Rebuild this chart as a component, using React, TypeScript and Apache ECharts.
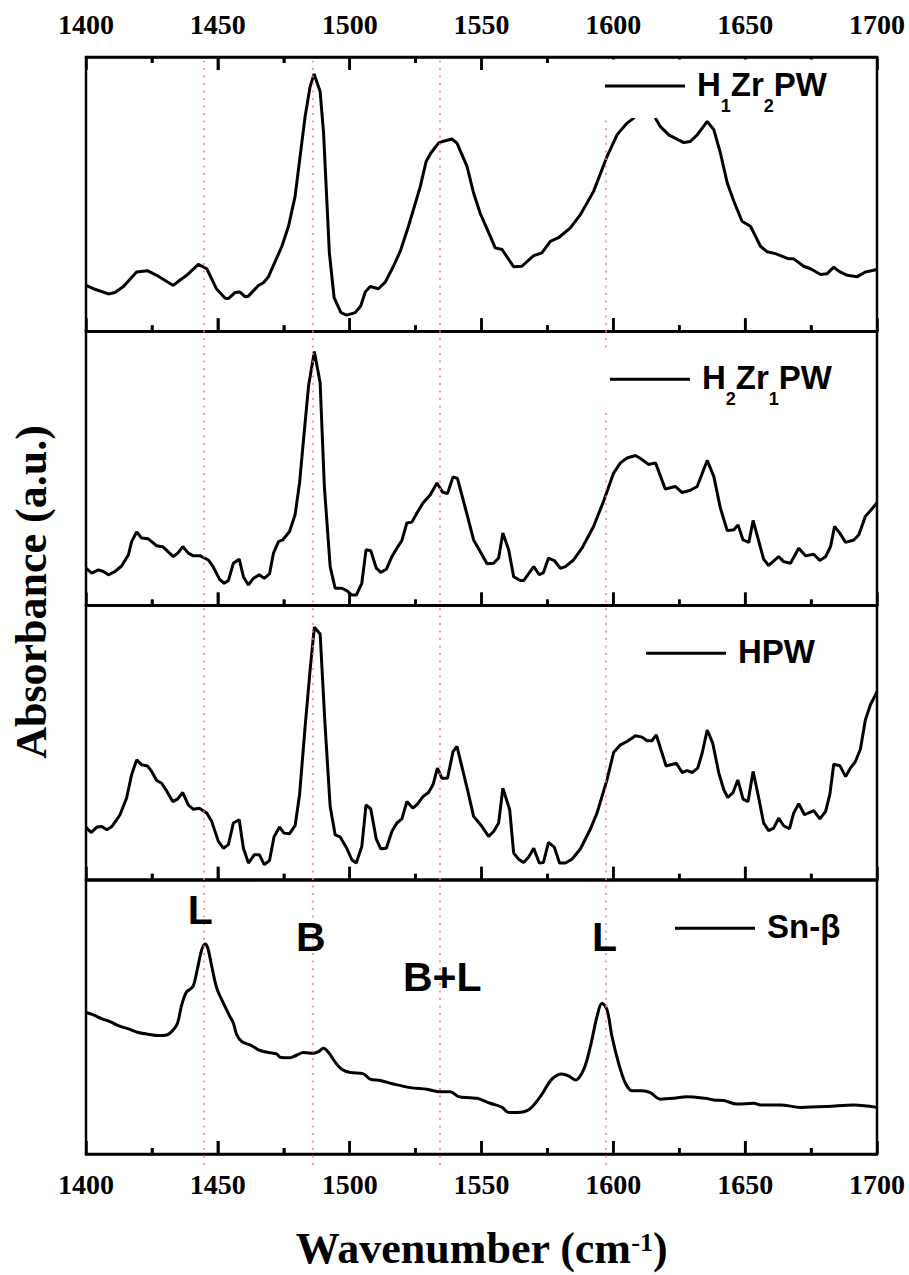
import React, { useEffect, useRef } from 'react';
import * as echarts from 'echarts';

// ---- data (wavenumber cm-1, relative absorbance in % of panel height) ----
const seriesNames = ['H1Zr2PW', 'H2Zr1PW', 'HPW', 'Sn-β'];

const h1zr2pw: [number, number][] = [
  [1400,16.7],[1402.8,15.5],[1408.5,13.6],[1411.0,14.1],[1414.2,16.3],[1419.2,21.6],[1423.3,22.1],[1426.8,20.4],
  [1433.1,16.7],[1435.7,18.7],[1438.2,20.4],[1442.6,24.4],[1445.8,22.8],[1449.6,15.3],[1452.8,12.0],[1454.0,11.9],
  [1456.5,14.1],[1458.4,14.3],[1460.3,12.6],[1461.6,12.8],[1465.4,16.7],[1467.3,17.7],[1469.2,19.9],[1474.3,31.0],
  [1476.8,38.3],[1479.3,49.2],[1483.1,78.3],[1485.0,89.2],[1486.5,93.8],[1488.8,87.4],[1490.1,72.3],[1492.3,28.6],
  [1494.1,12.3],[1496.7,6.8],[1498.9,5.9],[1502.1,6.8],[1504.2,9.2],[1505.9,14.3],[1507.8,16.3],[1510.9,15.5],
  [1513.5,17.9],[1516.6,23.7],[1519.2,29.2],[1522.3,38.3],[1524.2,44.4],[1526.8,52.8],[1529.0,61.9],[1530.8,65.0],
  [1533.7,68.6],[1535.6,69.3],[1538.8,70.1],[1540.7,68.6],[1544.5,60.1],[1547.0,50.4],[1549.5,43.0],[1553.3,34.7],
  [1555.2,30.4],[1557.8,29.8],[1562.2,23.5],[1565.3,23.7],[1569.8,27.6],[1572.9,28.6],[1576.1,32.8],[1579.2,34.1],
  [1583.7,37.7],[1587.5,42.5],[1592.5,51.0],[1597.6,63.7],[1601.4,71.6],[1605.2,75.9],[1607.7,77.7],[1610.5,83.0],
  [1612.5,85.0],[1614.5,83.0],[1616.0,77.7],[1617.8,74.7],[1621.0,71.6],[1626.7,68.8],[1629.2,69.2],[1631.8,71.6],
  [1635.6,76.5],[1638.1,73.5],[1640.6,65.0],[1643.2,54.1],[1645.7,47.4],[1648.8,40.1],[1652.0,38.3],[1653.9,34.7],
  [1655.8,31.0],[1658.3,29.0],[1661.5,28.3],[1663.4,27.6],[1666.5,26.4],[1668.4,26.4],[1672.2,23.7],[1674.8,22.8],
  [1678.6,20.7],[1681.1,21.0],[1683.6,23.4],[1685.5,21.9],[1688.7,20.4],[1692.5,19.9],[1695.6,21.6],[1700,22.5]
];

const h2zr1pw: [number, number][] = [
  [1400,13.6],[1402.2,11.8],[1404.7,13.0],[1406.6,12.4],[1408.5,11.2],[1411.0,12.4],[1413.5,14.4],[1416.1,18.5],
  [1417.3,23.3],[1419.2,26.8],[1421.1,24.6],[1423.6,24.3],[1426.8,21.8],[1429.3,21.3],[1433.1,17.8],[1435.0,19.3],
  [1436.7,21.5],[1438.8,19.1],[1440.7,18.1],[1443.3,18.1],[1446.4,16.6],[1448.3,14.0],[1450.6,9.6],[1452.4,8.1],
  [1454.0,9.1],[1455.9,15.4],[1458.1,16.9],[1459.7,10.5],[1461.6,7.5],[1463.5,9.9],[1465.7,11.2],[1467.6,9.9],
  [1469.6,11.5],[1471.1,19.1],[1473.0,23.3],[1474.6,23.9],[1477.2,27.0],[1479.3,33.1],[1481.0,44.7],[1482.5,60.5],
  [1484.4,80.0],[1486.6,92.6],[1488.8,81.2],[1490.4,43.4],[1492.6,14.2],[1494.5,6.3],[1497.0,6.3],[1498.9,5.4],
  [1500.8,3.8],[1502.5,3.8],[1504.6,8.1],[1506.2,20.3],[1508.0,20.0],[1510.1,13.6],[1511.8,12.1],[1513.9,13.2],
  [1516.0,17.8],[1517.9,20.9],[1519.8,23.7],[1521.7,30.1],[1523.6,30.4],[1525.5,33.7],[1527.8,37.4],[1530.6,40.4],
  [1533.1,44.7],[1535.2,41.4],[1537.1,40.8],[1539.2,46.9],[1540.9,46.3],[1544.7,32.5],[1547.0,23.9],[1549.5,19.7],
  [1552.1,15.2],[1554.6,15.4],[1556.5,17.3],[1558.1,26.4],[1560.3,20.3],[1562.2,10.5],[1564.7,9.1],[1566.0,9.1],
  [1569.8,14.2],[1571.9,11.2],[1573.5,12.0],[1575.4,17.3],[1577.6,16.4],[1579.9,13.6],[1581.8,14.2],[1584.9,16.6],
  [1588.1,20.9],[1592.5,28.8],[1596.3,38.0],[1600.1,48.3],[1602.7,52.0],[1605.2,53.8],[1608.4,54.7],[1610.9,53.2],
  [1613.4,51.4],[1616.0,52.0],[1619.7,42.5],[1623.5,43.4],[1626.1,41.2],[1629.2,42.0],[1631.8,43.4],[1635.6,52.9],
  [1638.1,47.1],[1640.6,35.5],[1643.2,27.3],[1645.7,27.6],[1647.3,29.4],[1649.2,23.9],[1651.4,23.0],[1653.0,31.0],
  [1655.2,23.3],[1657.0,16.9],[1658.9,14.6],[1662.7,17.8],[1664.6,16.0],[1667.2,15.4],[1670.3,20.9],[1672.9,18.1],
  [1676.0,18.7],[1678.3,16.4],[1680.5,17.8],[1682.4,21.5],[1683.9,28.8],[1685.9,26.4],[1688.1,23.0],[1691.2,23.9],
  [1693.1,25.8],[1695.6,32.5],[1699.4,36.7],[1700,37.5]
];

const hpw: [number, number][] = [
  [1400,19.1],[1401.9,17.2],[1404.1,19.2],[1406.0,19.4],[1407.9,18.2],[1409.8,19.4],[1412.9,23.7],[1415.4,29.8],
  [1417.3,38.3],[1419.2,43.7],[1421.1,41.9],[1423.3,41.5],[1424.9,39.5],[1426.8,36.2],[1428.7,35.2],[1430.6,32.4],
  [1432.9,28.5],[1434.7,29.4],[1436.7,31.8],[1438.8,27.3],[1440.7,25.7],[1443.0,26.1],[1445.8,24.3],[1447.7,21.2],
  [1450.2,14.0],[1452.1,11.5],[1454.0,12.8],[1455.9,20.7],[1458.1,21.9],[1459.7,11.5],[1461.6,6.1],[1463.8,9.1],
  [1465.8,9.1],[1467.6,5.5],[1469.6,7.0],[1471.3,15.6],[1473.4,19.2],[1475.1,17.0],[1477.2,16.8],[1479.3,19.7],
  [1481.0,31.0],[1483.1,55.8],[1485.0,76.5],[1486.6,92.1],[1488.8,89.6],[1490.7,55.8],[1492.6,26.7],[1494.5,16.4],
  [1496.4,15.6],[1498.9,11.5],[1500.8,7.3],[1502.5,6.1],[1504.6,12.1],[1506.2,27.3],[1508.0,25.8],[1510.1,14.8],
  [1511.8,11.3],[1513.9,11.5],[1516.0,17.6],[1517.9,20.7],[1519.8,22.2],[1521.7,28.5],[1524.0,26.1],[1525.7,27.6],
  [1527.8,30.3],[1529.9,31.8],[1531.6,34.6],[1533.3,40.7],[1535.0,37.0],[1537.1,37.0],[1539.2,46.7],[1540.7,48.6],
  [1544.7,32.8],[1547.0,23.1],[1550.2,19.4],[1552.7,15.8],[1554.6,17.6],[1556.5,20.7],[1558.1,33.4],[1560.7,25.5],
  [1562.2,9.7],[1564.1,7.5],[1566.0,6.3],[1567.9,8.3],[1569.8,11.5],[1571.9,6.1],[1573.5,6.3],[1575.4,13.6],
  [1577.6,11.9],[1579.6,6.1],[1581.8,6.1],[1584.3,7.5],[1587.5,11.2],[1591.3,18.5],[1593.8,24.3],[1597.6,36.4],
  [1600.1,46.4],[1602.7,49.2],[1605.2,50.4],[1608.4,52.5],[1610.9,52.0],[1612.8,50.7],[1614.7,50.7],[1616.3,52.8],
  [1620.0,41.5],[1623.9,42.5],[1626.1,39.1],[1628.0,39.8],[1629.9,39.1],[1632.0,40.7],[1633.7,46.2],[1635.6,54.6],
  [1637.7,49.8],[1640.0,38.9],[1641.9,32.8],[1643.4,30.0],[1645.4,31.8],[1647.2,36.4],[1649.2,29.4],[1651.1,28.5],
  [1653.0,39.5],[1654.9,31.0],[1657.0,20.7],[1658.9,17.9],[1660.8,18.8],[1662.7,22.5],[1664.6,19.7],[1666.8,18.6],
  [1668.4,24.3],[1670.3,27.7],[1672.5,23.7],[1676.0,25.2],[1678.3,22.2],[1680.5,24.9],[1682.1,31.0],[1683.6,42.1],
  [1685.9,41.6],[1688.1,37.6],[1689.9,40.7],[1691.8,43.1],[1693.7,47.6],[1695.6,58.3],[1697.5,63.8],[1700,68.5]
];

const snBeta: [number, number][] = [
  [1400,51.6],[1402.8,50.7],[1406.0,49.3],[1409.1,48.3],[1412.3,46.8],[1416.1,45.6],[1419.8,44.3],[1423.6,43.7],
  [1427.4,43.2],[1430.6,43.4],[1433.1,45.3],[1434.7,47.7],[1436.3,54.4],[1438.0,58.9],[1439.5,60.1],[1440.7,61.3],
  [1442.2,67.2],[1443.9,74.5],[1445.2,76.6],[1446.2,75.1],[1447.7,68.4],[1449.6,60.5],[1452.1,55.0],[1454.6,50.1],
  [1455.9,47.7],[1457.2,43.4],[1459.1,41.0],[1462.2,39.8],[1465.4,38.0],[1469.2,37.0],[1472.4,36.4],[1473.6,35.3],
  [1477.4,35.1],[1480.0,36.1],[1482.5,37.0],[1486.3,36.7],[1488.2,37.3],[1490.1,38.6],[1492.0,37.0],[1494.5,33.5],
  [1497.0,30.9],[1500.2,29.7],[1505.2,29.2],[1507.8,27.3],[1511.6,26.8],[1516.6,25.5],[1523.0,24.2],[1529.3,23.6],
  [1534.4,22.7],[1538.1,22.7],[1541.3,20.9],[1545.7,20.5],[1548.3,20.3],[1553.3,18.5],[1557.8,17.0],[1560.3,15.1],
  [1563.5,15.1],[1567.9,16.1],[1572.3,20.9],[1576.7,27.3],[1580.5,29.2],[1583.0,28.5],[1585.6,27.0],[1588.7,30.7],
  [1591.3,39.2],[1593.8,50.1],[1595.7,55.0],[1597.6,52.6],[1599.5,42.8],[1602.0,33.1],[1604.6,25.8],[1607.1,23.1],
  [1610.9,23.1],[1614.0,22.4],[1617.8,20.0],[1622.9,20.3],[1627.9,20.9],[1634.9,20.3],[1638.1,19.7],[1641.9,19.5],
  [1646.9,18.2],[1653.3,18.5],[1655.8,17.9],[1663.4,17.9],[1671.0,17.0],[1681.1,17.3],[1691.2,17.9],[1696.3,17.5],
  [1700,17.0]
];

// band positions (dotted guide lines) and peak assignments
const bandCentres = [1444.5, 1486, 1534, 1597];
const peakLabels = ['L', 'B', 'B+L', 'L'];
const peakLabelX = [1443.3, 1485.3, 1535.1, 1596.7];
const peakLabelY = [88.9, 79.1, 64.7, 79.0];

// axis ticks (major every 50, minor halfway)
const majorTicks = [1450, 1500, 1550, 1600, 1650];
const minorTicks = [1425, 1475, 1525, 1575, 1625, 1675];

const xMin = 1400;
const xMax = 1700;
const xStep = 50;

const panelData = [h1zr2pw, h2zr1pw, hpw, snBeta];
const legendRichText = [
  '{a|H}{s|1}{a|Zr}{s|2}{a|PW}',
  '{a|H}{s|2}{a|Zr}{s|1}{a|PW}',
  '{a|HPW}',
  '{a|Sn-β}',
];

export default function App() {
  const ref = useRef<HTMLDivElement>(null);

  useEffect(() => {
    if (!ref.current) return;
    const chart = echarts.init(ref.current, null, { renderer: 'svg' });

    const PLOT_LEFT = 86;
    const PLOT_W = 791;
    const PLOT_TOP = 57;
    const PANEL_H = 274.25;

    const grids: any[] = panelData.map((_, i) => ({
      left: PLOT_LEFT,
      width: PLOT_W,
      top: PLOT_TOP + i * PANEL_H,
      height: PANEL_H,
      show: true,
      borderColor: '#000',
      borderWidth: 2.5,
    }));
    grids.push({ left: PLOT_LEFT, width: PLOT_W, top: 55, height: 1110, show: false });

    const tickFont = {
      color: '#000',
      fontFamily: '"Liberation Serif", "Times New Roman", serif',
      fontWeight: 'bold',
      fontSize: 28,
    };

    const hiddenSplit = { show: true, lineStyle: { opacity: 0 } };

    const makeX = (gridIndex: number, position: string, showLabel: boolean, margin: number) => ({
      type: 'value',
      gridIndex,
      position,
      min: xMin,
      max: xMax,
      interval: xStep,
      axisLine: { show: true, onZero: false, lineStyle: { color: '#000', width: 2.5 } },
      axisTick: { show: true, inside: true, length: 13, lineStyle: { color: '#000', width: 2.5 } },
      minorTick: { show: true, splitNumber: 2, length: 6, lineStyle: { color: '#000', width: 2.5 } },
      splitLine: hiddenSplit,
      axisLabel: { show: showLabel, margin, formatter: (v: number) => String(v), ...tickFont },
    });

    const xAxes: any[] = panelData.map((_, i) => makeX(i, 'bottom', i === 3, 16));
    xAxes.push(makeX(0, 'top', true, 19)); // index 4: top axis of first panel
    xAxes.push({
      type: 'value',
      gridIndex: 4,
      min: xMin,
      max: xMax,
      axisLine: { show: false },
      axisTick: { show: false },
      axisLabel: { show: false },
      splitLine: hiddenSplit,
    }); // index 5: overlay for band guide lines

    const emptyY = (gridIndex: number, max: number) => ({
      type: 'value',
      gridIndex,
      min: 0,
      max,
      axisLine: { show: false },
      axisTick: { show: false },
      axisLabel: { show: false },
      splitLine: hiddenSplit,
    });
    const yAxes: any[] = panelData.map((_, i) => emptyY(i, 100));
    yAxes.push(emptyY(4, 1));

    const series: any[] = panelData.map((data, i) => ({
      type: 'line',
      name: seriesNames[i],
      xAxisIndex: i,
      yAxisIndex: i,
      data,
      symbol: 'none',
      smooth: i === 3 ? 0.35 : false,
      lineStyle: { color: '#000', width: 3 },
      z: 3,
      silent: true,
    }));

    series[3].markPoint = {
      symbol: 'circle',
      symbolSize: 1,
      itemStyle: { color: 'rgba(0,0,0,0)' },
      silent: true,
      label: {
        show: true,
        position: 'inside',
        formatter: (p: any) => p.name,
        color: '#000',
        fontFamily: '"Liberation Sans", Arial, sans-serif',
        fontWeight: 'bold',
        fontSize: 41,
      },
      data: peakLabels.map((name, k) => ({ name, coord: [peakLabelX[k], peakLabelY[k]] })),
    };

    series.push({
      type: 'line',
      name: 'bands',
      xAxisIndex: 5,
      yAxisIndex: 4,
      data: [],
      z: 1,
      silent: true,
      markLine: {
        silent: true,
        symbol: ['none', 'none'],
        label: { show: false },
        lineStyle: { color: '#ff7b7b', width: 1.5, type: [2, 5.5] },
        data: bandCentres.map((v) => ({ xAxis: v })),
      },
    });

    const sansBold = '"Liberation Sans", Arial, sans-serif';
    const serifBold = '"Liberation Serif", "Times New Roman", serif';

    const legendRich = {
      a: { fontFamily: sansBold, fontWeight: 'bold', fontSize: 33, lineHeight: 36, verticalAlign: 'top' },
      s: {
        fontFamily: sansBold,
        fontWeight: 'bold',
        fontSize: 18,
        lineHeight: 17,
        padding: [29, 0, 0, 0],
        verticalAlign: 'top',
      },
    };

    // legend boxes: [boxX, boxY, boxW, boxH, lineX, lineY, textX, capCentreY]
    const legendLayout = [
      [597, 59.5, 243, 58.5, 605, 86, 697, 85.5],
      [602, 353, 243, 57, 610, 379.3, 702, 378.7],
      [638, 625, 190, 57, 646, 653.3, 738, 653],
      [667, 900, 180, 57, 675, 928.3, 767, 927.5],
    ];

    const graphic: any[] = [];
    legendLayout.forEach((L, i) => {
      graphic.push({
        type: 'rect',
        z: 100,
        silent: true,
        shape: { x: L[0], y: L[1], width: L[2], height: L[3] },
        style: { fill: '#fff' },
      });
      graphic.push({
        type: 'line',
        z: 101,
        silent: true,
        shape: { x1: L[4], y1: L[5], x2: L[4] + 80, y2: L[5] },
        style: { stroke: '#000', lineWidth: 3 },
      });
      graphic.push({
        type: 'text',
        z: 101,
        silent: true,
        x: L[6],
        y: L[7] - 18,
        style: {
          text: legendRichText[i],
          fill: '#000',
          align: 'left',
          verticalAlign: 'top',
          rich: legendRich,
        },
      });
    });

    // axis titles
    graphic.push({
      type: 'text',
      z: 101,
      silent: true,
      x: 31,
      y: 592,
      rotation: Math.PI / 2,
      style: {
        text: 'Absorbance (a.u.)',
        fill: '#000',
        font: 'bold 44px ' + serifBold,
        align: 'center',
        verticalAlign: 'middle',
      },
    });
    graphic.push({
      type: 'text',
      z: 101,
      silent: true,
      x: 481.5,
      y: 1226.5,
      style: {
        text: '{a|Wavenumber (cm}{s|-1}{a|)}',
        fill: '#000',
        align: 'center',
        verticalAlign: 'top',
        rich: {
          a: { fontFamily: serifBold, fontWeight: 'bold', fontSize: 44, lineHeight: 50, verticalAlign: 'top' },
          s: {
            fontFamily: serifBold,
            fontWeight: 'bold',
            fontSize: 26,
            lineHeight: 18,
            padding: [3, 0, 0, 0],
            verticalAlign: 'top',
          },
        },
      },
    });

    chart.setOption({
      animation: false,
      backgroundColor: '#fff',
      grid: grids,
      xAxis: xAxes,
      yAxis: yAxes,
      series,
      graphic,
    });

    // inward tick marks: positions taken from each panel's own axis scales
    const tickGraphics: any[] = [];
    panelData.forEach((_, i) => {
      const addTick = (v: number, len: number) => {
        const b = chart.convertToPixel({ xAxisIndex: i, yAxisIndex: i } as any, [v, 0]) as any;
        if (b && isFinite(b[0]) && isFinite(b[1])) {
          tickGraphics.push({
            type: 'line',
            z: 90,
            silent: true,
            shape: { x1: b[0], y1: b[1], x2: b[0], y2: b[1] - len },
            style: { stroke: '#000', lineWidth: 2.5 },
          });
        }
        if (i === 0) {
          const t = chart.convertToPixel({ xAxisIndex: 0, yAxisIndex: 0 } as any, [v, 100]) as any;
          if (t && isFinite(t[0]) && isFinite(t[1])) {
            tickGraphics.push({
              type: 'line',
              z: 90,
              silent: true,
              shape: { x1: t[0], y1: t[1], x2: t[0], y2: t[1] + len },
              style: { stroke: '#000', lineWidth: 2.5 },
            });
          }
        }
      };
      majorTicks.forEach((v) => addTick(v, 13));
      minorTicks.forEach((v) => addTick(v, 6));
    });
    if (tickGraphics.length) {
      chart.setOption({ graphic: [...graphic, ...tickGraphics] });
    }

    return () => chart.dispose();
  }, []);

  return (
    <div
      ref={ref}
      style={{ position: 'absolute', left: 0, top: 0, width: 909, height: 1275, background: '#fff' }}
    />
  );
}
